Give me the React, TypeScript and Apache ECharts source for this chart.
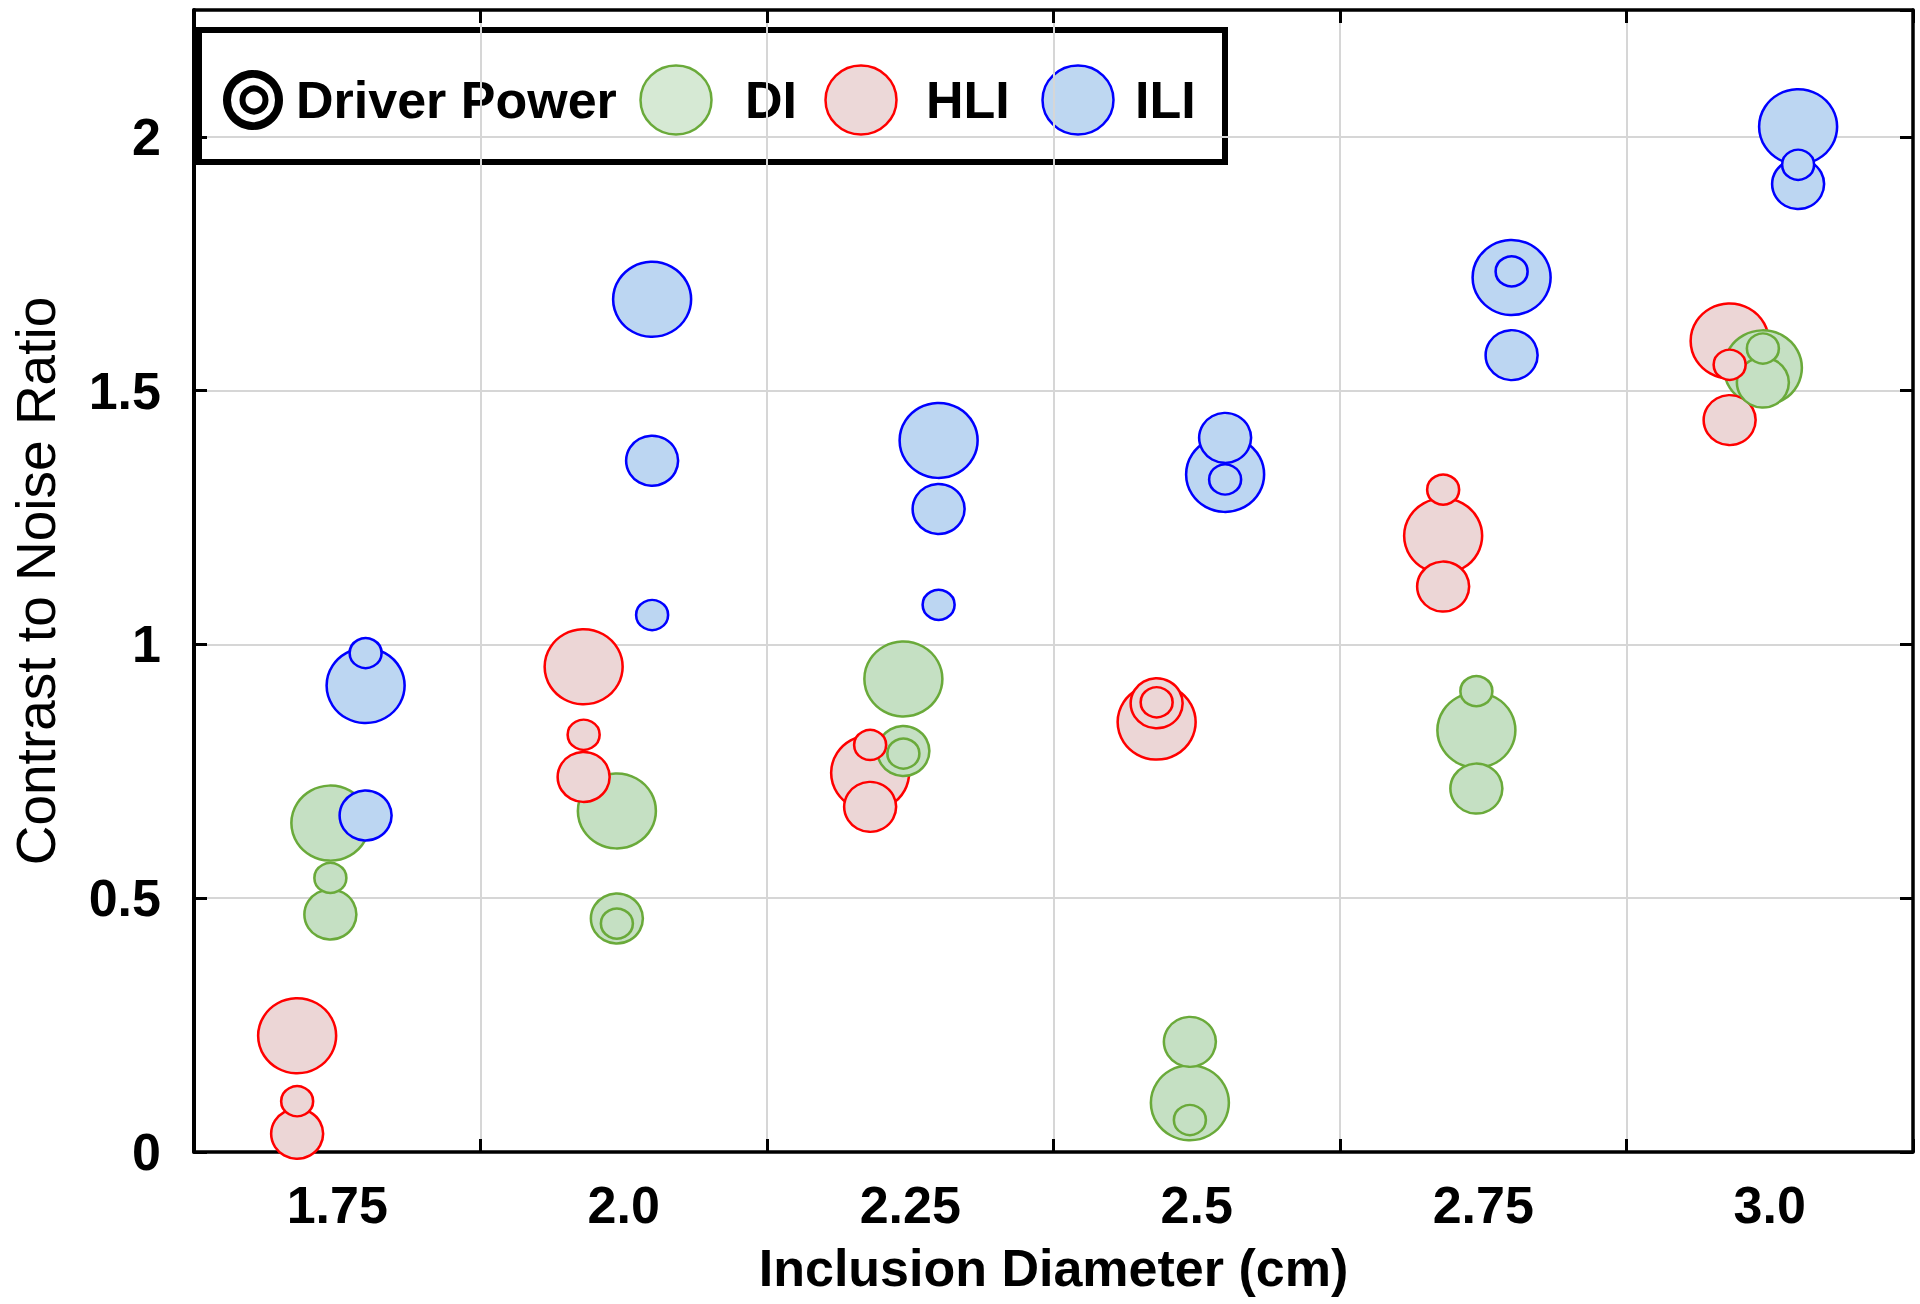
import React, { useEffect, useRef } from "react";
import * as echarts from "echarts";

// ---------- data ----------
const categories = ["1.75", "2.0", "2.25", "2.5", "2.75", "3.0"];
const yMin = 0;
const yMax = 2.25;
const yInterval = 0.5;

// DI (green) — CNR for low / mid / high driver power
const diLow = [0.54, 0.45, 0.785, 0.063, 0.908, 1.583];
const diMid = [0.468, 0.46, 0.79, 0.217, 0.716, 1.516];
const diHigh = [0.648, 0.672, 0.932, 0.097, 0.831, 1.545];

// HLI (red)
const hliLow = [0.1, 0.822, 0.802, 0.886, 1.305, 1.551];
const hliMid = [0.036, 0.739, 0.68, 0.884, 1.114, 1.442];
const hliHigh = [0.229, 0.956, 0.747, 0.847, 1.214, 1.598];

// ILI (blue)
const iliLow = [0.983, 1.058, 1.078, 1.325, 1.735, 1.945];
const iliMid = [0.663, 1.362, 1.267, 1.407, 1.57, 1.907];
const iliHigh = [0.919, 1.68, 1.402, 1.335, 1.723, 2.02];

// ---------- styles ----------
const FONT = '"Liberation Sans", Arial, Helvetica, sans-serif';
const SIZES = { high: [78, 75], mid: [52, 50], low: [32, 30] };
const OFFSETS = { DI: -0.024, HLI: -0.14, ILI: 0.099 };
const STYLE = {
  DI: { fill: "#c5e0c3", stroke: "#6aaa3a", legendFill: "#d6e9d4" },
  HLI: { fill: "#ecd6d6", stroke: "#ff0000", legendFill: "#ecd8d8" },
  ILI: { fill: "#bcd6f2", stroke: "#0000ff", legendFill: "#bed7f1" },
};

type Group = "DI" | "HLI" | "ILI";
type Level = "high" | "mid" | "low";

const GROUP_VALUES: Record<Group, Record<Level, number[]>> = {
  DI: { high: diHigh, mid: diMid, low: diLow },
  HLI: { high: hliHigh, mid: hliMid, low: hliLow },
  ILI: { high: iliHigh, mid: iliMid, low: iliLow },
};

function makeSeries(group: Group, level: Level) {
  const vals = GROUP_VALUES[group][level];
  return {
    name: group,
    type: "scatter",
    xAxisIndex: 0,
    yAxisIndex: 0,
    symbol: "circle",
    symbolSize: SIZES[level],
    data: categories.map((_, i) => [i + OFFSETS[group], vals[i]]),
    itemStyle: {
      color: STYLE[group].fill,
      borderColor: STYLE[group].stroke,
      borderWidth: 2.5,
      opacity: 1,
    },
    emphasis: { disabled: true },
  };
}

const LEVEL_ORDER: Level[] = ["high", "mid", "low"];
const GROUP_ORDER: Group[] = ["HLI", "DI", "ILI"];

export default function App() {
  const ref = useRef<HTMLDivElement>(null);

  useEffect(() => {
    if (!ref.current) return;
    const chart = echarts.init(ref.current, null, { renderer: "svg" });

    const legendY = 100;
    const series: any[] = [];
    LEVEL_ORDER.forEach((lv) => GROUP_ORDER.forEach((g) => series.push(makeSeries(g, lv))));

    const option: any = {
      animation: false,
      backgroundColor: "#ffffff",
      textStyle: { fontFamily: FONT },
      grid: { left: 184, right: 7, top: 10, bottom: 152, containLabel: false },
      xAxis: [
        {
          type: "value",
          min: -0.5,
          max: 5.5,
          show: false,
        },
        {
          type: "category",
          data: categories,
          position: "bottom",
          boundaryGap: true,
          name: "Inclusion Diameter (cm)",
          nameLocation: "middle",
          nameGap: 90,
          nameTextStyle: { fontFamily: FONT, fontSize: 52, fontWeight: "bold", color: "#000" },
          axisLine: { show: true, onZero: false, lineStyle: { color: "#000", width: 3.5 } },
          axisTick: { show: true, inside: true, length: 13, lineStyle: { color: "#000", width: 3 } },
          axisLabel: {
            show: true,
            interval: 0,
            margin: 27,
            fontFamily: FONT,
            fontSize: 52,
            fontWeight: "bold",
            color: "#000",
          },
          splitLine: { show: true, interval: 0, lineStyle: { color: "#d6d6d6", width: 2 } },
        },
        {
          type: "category",
          data: categories,
          position: "top",
          boundaryGap: true,
          axisLine: { show: true, onZero: false, lineStyle: { color: "#000", width: 3.5 } },
          axisTick: { show: true, inside: true, length: 13, lineStyle: { color: "#000", width: 3 } },
          axisLabel: { show: false },
          splitLine: { show: false },
        },
      ],
      yAxis: [
        {
          type: "value",
          min: yMin,
          max: yMax,
          interval: yInterval,
          position: "left",
          name: "Contrast to Noise Ratio",
          nameLocation: "middle",
          nameGap: 131,
          nameTextStyle: { fontFamily: FONT, fontSize: 55, fontWeight: "normal", color: "#000" },
          axisLine: { show: true, onZero: false, lineStyle: { color: "#000", width: 4 } },
          axisTick: { show: true, inside: true, length: 13, lineStyle: { color: "#000", width: 3 } },
          axisLabel: {
            show: true,
            showMaxLabel: false,
            margin: 33,
            fontFamily: FONT,
            fontSize: 52,
            fontWeight: "bold",
            color: "#000",
          },
          splitLine: { show: true, lineStyle: { color: "#d6d6d6", width: 2 } },
        },
        {
          type: "value",
          min: yMin,
          max: yMax,
          interval: yInterval,
          position: "right",
          axisLine: { show: true, onZero: false, lineStyle: { color: "#000", width: 3.5 } },
          axisTick: { show: true, inside: true, length: 13, lineStyle: { color: "#000", width: 3 } },
          axisLabel: { show: false },
          splitLine: { show: false },
        },
      ],
      series,
      graphic: [
        {
          type: "group",
          z: 100,
          children: [
            {
              type: "rect",
              shape: { x: 199, y: 30, width: 1026, height: 132 },
              style: { fill: "#ffffff", stroke: "#000", lineWidth: 6 },
            },
            {
              type: "circle",
              shape: { cx: 253, cy: legendY, r: 26 },
              style: { fill: "none", stroke: "#000", lineWidth: 8 },
            },
            {
              type: "circle",
              shape: { cx: 254, cy: legendY, r: 11.5 },
              style: { fill: "none", stroke: "#000", lineWidth: 6 },
            },
            {
              type: "text",
              x: 296,
              y: legendY,
              style: {
                text: "Driver Power",
                font: `bold 52px ${FONT}`,
                fill: "#000",
                verticalAlign: "middle",
              },
            },
            {
              type: "ellipse",
              shape: { cx: 676, cy: legendY, rx: 35.5, ry: 34.5 },
              style: { fill: STYLE.DI.legendFill, stroke: STYLE.DI.stroke, lineWidth: 2.5 },
            },
            {
              type: "text",
              x: 745,
              y: legendY,
              style: { text: "DI", font: `bold 52px ${FONT}`, fill: "#000", verticalAlign: "middle" },
            },
            {
              type: "ellipse",
              shape: { cx: 861, cy: legendY, rx: 35.5, ry: 34.5 },
              style: { fill: STYLE.HLI.legendFill, stroke: STYLE.HLI.stroke, lineWidth: 2.5 },
            },
            {
              type: "text",
              x: 926,
              y: legendY,
              style: { text: "HLI", font: `bold 52px ${FONT}`, fill: "#000", verticalAlign: "middle" },
            },
            {
              type: "ellipse",
              shape: { cx: 1078, cy: legendY, rx: 35.5, ry: 34.5 },
              style: { fill: STYLE.ILI.legendFill, stroke: STYLE.ILI.stroke, lineWidth: 2.5 },
            },
            {
              type: "text",
              x: 1135,
              y: legendY,
              style: { text: "ILI", font: `bold 52px ${FONT}`, fill: "#000", verticalAlign: "middle" },
            },
          ],
        },
      ],
    };

    chart.setOption(option);
    return () => {
      chart.dispose();
    };
  }, []);

  return (
    <div
      ref={ref}
      style={{ position: "absolute", left: 0, top: 0, width: 1920, height: 1304, background: "#fff" }}
    />
  );
}
